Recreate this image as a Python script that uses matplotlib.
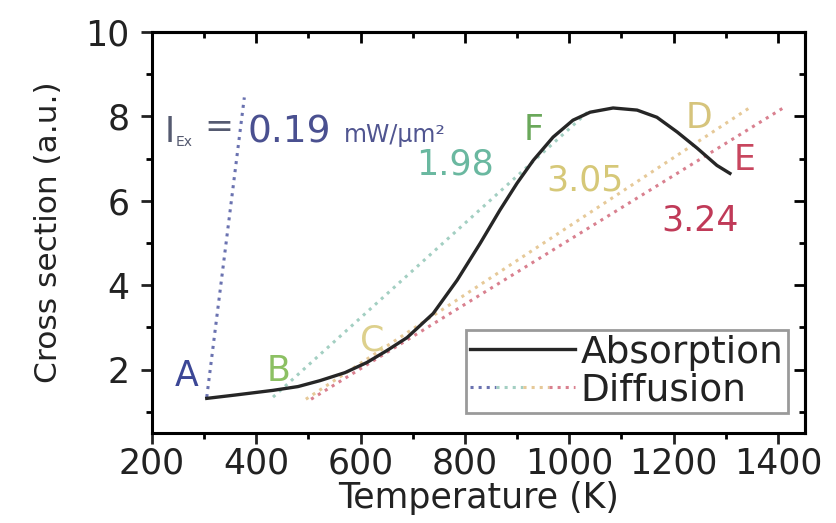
import matplotlib
matplotlib.use("Agg")
import matplotlib.pyplot as plt
from matplotlib.ticker import MultipleLocator
from matplotlib.lines import Line2D
from matplotlib.legend_handler import HandlerTuple

# ---- data ----
abs_T = [305, 360, 432, 480, 522, 570, 612, 650, 689, 739, 785, 829, 867, 900, 931, 969,
         1007, 1040, 1084, 1130, 1168, 1207, 1245, 1283, 1308]
abs_v = [1.32, 1.40, 1.51, 1.60, 1.74, 1.93, 2.17, 2.45, 2.76, 3.33, 4.12, 4.99, 5.78, 6.42, 6.96, 7.51,
         7.91, 8.10, 8.20, 8.15, 7.98, 7.63, 7.25, 6.84, 6.65]

blue_T = [305, 377]
blue_v = [1.35, 8.45]
green_T = [432, 1035]
green_v = [1.35, 8.10]
yellow_T = [495, 1345]
yellow_v = [1.30, 8.20]
red_T = [505, 1410]
red_v = [1.30, 8.20]

x_ticks = [200, 400, 600, 800, 1000, 1200, 1400]
y_ticks = [2, 4, 6, 8, 10]

c_blue, c_green, c_yellow, c_red = '#6a72b0', '#a3cfc2', '#e6c998', '#d9808f'

fig = plt.figure(figsize=(8.37, 5.23), dpi=100)
ax = fig.add_axes([0.1816, 0.1721, 0.7802, 0.7667])

ax.plot(blue_T, blue_v, ls=':', color=c_blue, lw=2.2, zorder=2)
ax.plot(green_T, green_v, ls=':', color=c_green, lw=2.2, zorder=2)
ax.plot(yellow_T, yellow_v, ls=':', color=c_yellow, lw=2.2, zorder=2)
ax.plot(red_T, red_v, ls=':', color=c_red, lw=2.2, zorder=2)
ax.plot(abs_T, abs_v, '-', color='#262626', lw=2.4, zorder=3, solid_joinstyle='round')

ax.set_xlim(200, 1452)
ax.set_ylim(0.5, 10)
ax.set_xticks(x_ticks)
ax.set_yticks(y_ticks)
ax.xaxis.set_minor_locator(MultipleLocator(100))
ax.yaxis.set_minor_locator(MultipleLocator(1))
for s in ax.spines.values():
    s.set_linewidth(2.2)
ax.tick_params(which='both', direction='out', top=False, right=False, width=2)
ax.tick_params(which='major', length=8, labelsize=25, colors='#222222')
ax.tick_params(which='minor', length=4)
ax.tick_params(axis='x', which='major', pad=2)
ax.tick_params(axis='y', which='major', pad=8)
# inward mirrored ticks on top/right
ax2 = ax.secondary_xaxis('top')
ax2.set_xticks(x_ticks)
ax2.xaxis.set_minor_locator(MultipleLocator(100))
ax2.tick_params(which='both', direction='in', labeltop=False, width=2)
ax2.tick_params(which='major', length=8)
ax2.tick_params(which='minor', length=4)
ax2.spines['top'].set_linewidth(2.2)
ay2 = ax.secondary_yaxis('right')
ay2.set_yticks(y_ticks)
ay2.yaxis.set_minor_locator(MultipleLocator(1))
ay2.tick_params(which='both', direction='in', labelright=False, width=2)
ay2.tick_params(which='major', length=8)
ay2.tick_params(which='minor', length=4)
ay2.spines['right'].set_linewidth(2.2)

ax.set_xlabel('Temperature (K)', fontsize=25, color='#222222', labelpad=0)
ax.set_ylabel('Cross section (a.u.)', fontsize=22.5, color='#222222', labelpad=16)

# annotations
fs = 25
ax.text(267, 1.86, 'A', color='#3c4796', fontsize=fs, ha='center', va='center')
ax.text(442, 1.98, 'B', color='#8cc063', fontsize=fs, ha='center', va='center')
ax.text(622, 2.70, 'C', color='#ddd08c', fontsize=fs, ha='center', va='center')
ax.text(931, 7.67, 'F', color='#6aa85a', fontsize=fs, ha='center', va='center')
ax.text(1249, 7.96, 'D', color='#d6c47c', fontsize=fs, ha='center', va='center')
ax.text(1337, 6.96, 'E', color='#c8465e', fontsize=fs, ha='center', va='center')
ax.text(781, 6.87, '1.98', color='#6ab8a0', fontsize=fs, ha='center', va='center')
ax.text(1030, 6.49, '3.05', color='#d6c878', fontsize=fs, ha='center', va='center')
ax.text(1251, 5.54, '3.24', color='#c03a58', fontsize=fs, ha='center', va='center')

ax.text(225, 7.39, 'I', color='#555a70', fontsize=25, ha='left', va='baseline')
ax.text(245, 7.30, 'Ex', color='#555a70', fontsize=10, ha='left', va='baseline')
ax.text(300, 7.75, '=', color='#555a70', fontsize=25, ha='left', va='center')
ax.text(384, 7.39, '0.19', color='#4a5090', fontsize=27, ha='left', va='baseline')
ax.text(568, 7.39, 'mW/μm²', color='#505590', fontsize=17, ha='left', va='baseline')

# legend
h_abs = Line2D([], [], color='#262626', lw=2.4)
h_dif = tuple(Line2D([], [], color=c, ls=':', lw=2.2) for c in (c_blue, c_green, c_yellow, c_red))
leg = ax.legend([h_abs, h_dif], ['Absorption', 'Diffusion'],
                handler_map={tuple: HandlerTuple(ndivide=None, pad=0)},
                loc='lower right', bbox_to_anchor=(0.974, 0.05), borderaxespad=0,
                fontsize=27, handlelength=2.8, handletextpad=0.15, borderpad=0.12,
                labelspacing=0.05, fancybox=False, framealpha=1)
leg.get_frame().set_edgecolor('#9a9a9a')
leg.get_frame().set_linewidth(2)
for t in leg.get_texts():
    t.set_color('#222222')

fig.savefig('out.png', dpi=100)
